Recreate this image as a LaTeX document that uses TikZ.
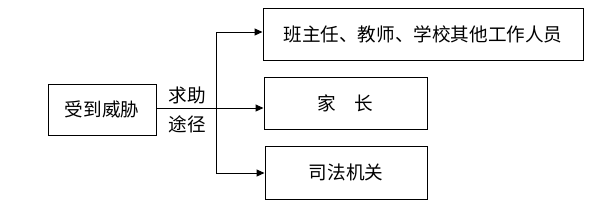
\documentclass[tikz,border=0pt]{standalone}
\usepackage{fontspec}
\setmainfont{Noto Sans CJK SC}
\usetikzlibrary{arrows.meta}
\begin{document}
\begin{tikzpicture}[x=1pt,y=-1pt,
  box/.style={draw,line width=1pt,inner sep=0pt},
  lbl/.style={font=\fontsize{18.6}{21}\selectfont},
  conn/.style={line width=1pt},
  arr/.style={line width=1pt,-{Triangle[length=8pt,width=7pt]}}]
\useasboundingbox (0,0) rectangle (602,202);
\node[box,minimum width=108pt,minimum height=51pt,lbl] (src) at (102,109.5) {受到威胁};
\node[box,minimum width=320pt,minimum height=52pt,lbl] (t1) at (423,34) {班主任、教师、学校其他工作人员};
\node[box,minimum width=163pt,minimum height=52pt,lbl] (t2) at (345.5,103) {家\hspace{1em}长};
\node[box,minimum width=162pt,minimum height=53pt,lbl] (t3) at (346,172.5) {司法机关};
\node[lbl] (l1) at (187,95) {求助};
\node[lbl] (l2) at (187,124) {途径};
\coordinate (j) at (216,108);
\coordinate (jt) at (216,32);
\coordinate (jb) at (216,173);
\draw[conn] (src.east |- j) -- (j);
\draw[conn] (jt) -- (jb);
\draw[arr] (jt) -- (jt -| t1.west);
\draw[arr] (j) -- (j -| t2.west);
\draw[arr] (jb) -- (jb -| t3.west);
\end{tikzpicture}
\end{document}
